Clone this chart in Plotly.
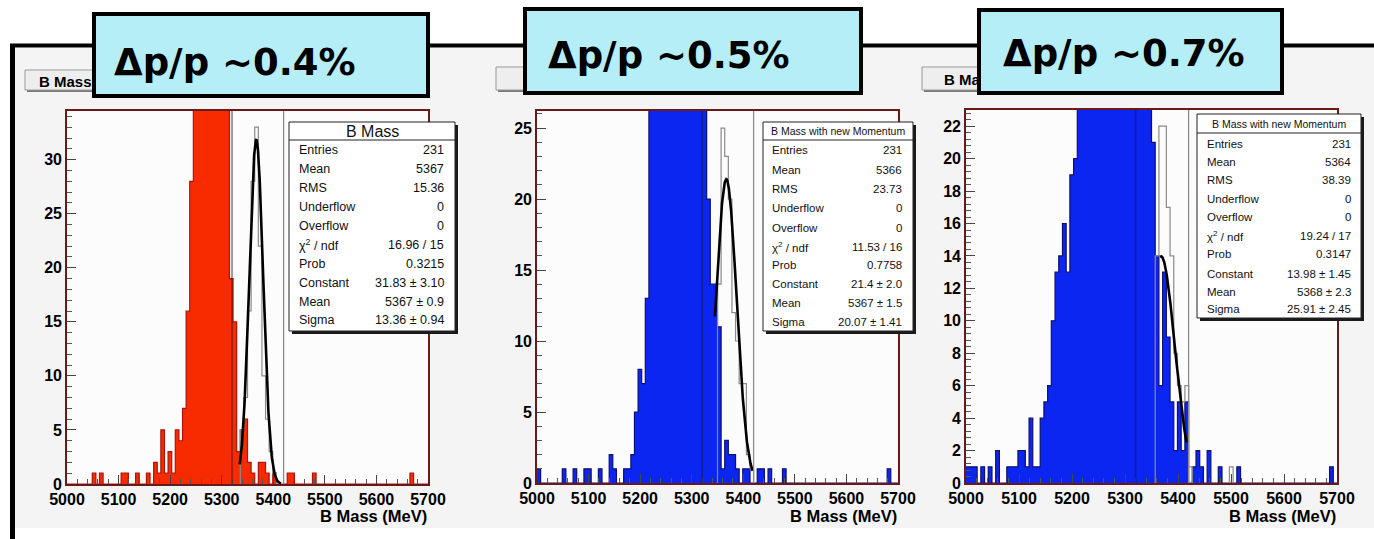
import numpy as np
import plotly.graph_objects as go

W, H = 1374, 539

# ---------------- data ----------------
BIN_LO, BIN_W, N_BINS = 5000, 7, 100
X_TICKS = [5000, 5100, 5200, 5300, 5400, 5500, 5600, 5700]

FILL_1 = [0, 0, 0, 0, 0, 0, 0, 1, 0, 1,
          0, 0, 0, 0, 0, 1, 1, 0, 0, 1,
          0, 0, 1, 0, 2, 1, 5, 1, 3, 1,
          5, 4, 7, 16, 28, 40, 48, 55, 60, 58,
          52, 47, 42, 38, 36, 19, 15, 3, 5, 6,
          2, 1, 0, 2, 2, 1, 0, 1, 0, 0,
          0, 1, 1, 0, 0, 0, 0, 0, 1, 0,
          0, 0, 0, 0, 0, 0, 0, 0, 0, 0,
          0, 0, 0, 0, 0, 0, 0, 0, 0, 0,
          0, 0, 0, 0, 0, 1, 0, 0, 0, 0]
FILL_2 = [1, 0, 0, 0, 0, 0, 0, 1, 0, 0,
          1, 0, 0, 1, 1, 0, 0, 1, 0, 0,
          2, 1, 0, 0, 1, 1, 2, 5, 8, 7,
          13, 30, 34, 38, 42, 45, 47, 46, 44, 42,
          40, 37, 35, 33, 31, 29, 27, 20, 14, 14,
          11, 1, 3, 2, 2, 1, 0, 1, 1, 0,
          0, 1, 1, 0, 1, 0, 0, 0, 1, 0,
          0, 0, 0, 0, 0, 0, 0, 0, 0, 0,
          0, 0, 0, 0, 0, 0, 0, 0, 0, 0,
          0, 0, 0, 0, 0, 0, 0, 1, 0, 0]
FILL_3 = [1, 1, 1, 0, 1, 0, 1, 0, 2, 0,
          0, 1, 1, 1, 2, 2, 1, 4, 1, 1,
          4, 5, 6, 10, 13, 14, 16, 13, 19, 20,
          26, 30, 33, 37, 40, 42, 44, 45, 46, 45,
          44, 42, 40, 38, 36, 33, 31, 29, 27, 25,
          21, 14, 6, 13, 9, 5, 2, 5, 2, 5,
          0, 1, 2, 1, 0, 2, 0, 0, 1, 0,
          0, 0, 0, 1, 0, 0, 0, 0, 0, 0,
          0, 0, 0, 0, 0, 0, 0, 0, 0, 0,
          0, 0, 0, 0, 0, 0, 0, 0, 1, 0]

GRAY_1_BINS = [48, 49, 50, 51, 52, 53, 54, 55, 56, 57]
GRAY_1 = [5, 8, 16, 28, 33, 22, 10, 6, 3, 1]
GRAY_2_BINS = [50, 51, 52, 53, 54, 55, 56, 57, 58, 59]
GRAY_2 = [14, 25, 23, 20, 12, 10, 7, 7, 2, 1]
GRAY_3_BINS = [51, 52, 53, 54, 55, 56, 57, 58, 59, 60, 71]
GRAY_3 = [14, 22, 22, 17, 14, 8, 6, 5, 6, 1, 1]

# Gaussian fit parameters (from stats boxes) and drawn fit ranges
FIT_1 = dict(const=31.83, mean=5367, sigma=13.36, lo=5335, hi=5415)
FIT_2 = dict(const=21.4, mean=5367, sigma=20.07, lo=5345, hi=5418)
FIT_3 = dict(const=13.98, mean=5368, sigma=25.91, lo=5366, hi=5416)

MARK_LINES = [5320, 5420]

TITLES = ["\u0394p/p ~0.4%", "\u0394p/p ~0.5%", "\u0394p/p ~0.7%"]
HIST_TITLES = ["B Mass", "B Mass with new Momentum", "B Mass with new Momentum"]
X_TITLE = "B Mass (MeV)"

STATS_1 = [("Entries", "231"), ("Mean", "5367"), ("RMS", "15.36"),
           ("Underflow", "0"), ("Overflow", "0"),
           ("\u03c7<sup>2</sup> / ndf", "16.96 / 15"), ("Prob", "0.3215"),
           ("Constant", "31.83 \u00b1 3.10"), ("Mean", "5367 \u00b1 0.9"),
           ("Sigma", "13.36 \u00b1 0.94")]
STATS_2 = [("Entries", "231"), ("Mean", "5366"), ("RMS", "23.73"),
           ("Underflow", "0"), ("Overflow", "0"),
           ("\u03c7<sup>2</sup> / ndf", "11.53 / 16"), ("Prob", "0.7758"),
           ("Constant", "21.4 \u00b1 2.0"), ("Mean", "5367 \u00b1 1.5"),
           ("Sigma", "20.07 \u00b1 1.41")]
STATS_3 = [("Entries", "231"), ("Mean", "5364"), ("RMS", "38.39"),
           ("Underflow", "0"), ("Overflow", "0"),
           ("\u03c7<sup>2</sup> / ndf", "19.24 / 17"), ("Prob", "0.3147"),
           ("Constant", "13.98 \u00b1 1.45"), ("Mean", "5368 \u00b1 2.3"),
           ("Sigma", "25.91 \u00b1 2.45")]

# ---------------- layout geometry (pixels) ----------------
PANELS = [
    dict(fill=FILL_1, gbins=GRAY_1_BINS, gray=GRAY_1, fit=FIT_1, stats=STATS_1,
         color="#f82a00", edge="#a8160c", dark="rgba(60,30,30,0.55)",
         plot=(67, 428, 111, 484), ymax=34.5, dtick=5, minor=1,
         sbox=(289, 455, 122, 331), shead=16, sfont=12.5, hdr_y=131, sep=140,
         rows=[150, 169, 188, 207, 226, 245, 264, 283, 302, 320],
         sl=297, sr=446,
         tbox=(25, 100, 70, 90), tpad=11,
         cbox=(92, 430, 12, 98), ctext=(112, 62)),
    dict(fill=FILL_2, gbins=GRAY_2_BINS, gray=GRAY_2, fit=FIT_2, stats=STATS_2,
         color="#0a26f0", edge="#101070", dark="rgba(20,20,80,0.55)",
         plot=(537, 898, 111, 483), ymax=26.2, dtick=5, minor=1,
         sbox=(763, 913, 122, 331), shead=10.5, sfont=11.5, hdr_y=131, sep=140,
         rows=[150, 170, 189, 208, 228, 247, 265, 284, 303, 322],
         sl=770, sr=904,
         tbox=(496, 560, 67, 90), tpad=40,
         cbox=(523, 863, 7, 95), ctext=(546, 55)),
    dict(fill=FILL_3, gbins=GRAY_3_BINS, gray=GRAY_3, fit=FIT_3, stats=STATS_3,
         color="#0a26f0", edge="#101070", dark="rgba(20,20,80,0.55)",
         plot=(966, 1337, 110, 483), ymax=23.0, dtick=2, minor=0.4,
         sbox=(1197, 1361, 114, 318), shead=10.5, sfont=11.5, hdr_y=124, sep=133,
         rows=[144, 162, 180, 199, 217, 236, 254, 274, 292, 309],
         sl=1205, sr=1353,
         tbox=(922, 1000, 67, 90), tpad=19,
         cbox=(977, 1284, 8, 95), ctext=(1001, 53)),
]


def px(x):
    return x / W


def py(y):
    return 1 - y / H


edges = BIN_LO + BIN_W * np.arange(N_BINS + 1)

fig = go.Figure()
shapes = []
annotations = []
SANS = "Liberation Sans, Arial, sans-serif"

# canvas background and outer frame
shapes.append(dict(type="rect", xref="paper", yref="paper", x0=px(15), x1=px(W),
                   y0=py(528), y1=py(48), fillcolor="#f4f4f4", line=dict(width=0),
                   layer="below"))
shapes.append(dict(type="line", xref="paper", yref="paper", x0=px(10), x1=px(W),
                   y0=py(45.5), y1=py(45.5), line=dict(color="black", width=4)))
shapes.append(dict(type="line", xref="paper", yref="paper", x0=px(12.5), x1=px(12.5),
                   y0=py(45), y1=py(H), line=dict(color="black", width=5)))

for k, p in enumerate(PANELS):
    n = "" if k == 0 else str(k + 1)
    xa, ya = "x" + n, "y" + n
    x0, x1, y0, y1 = p["plot"]

    # plot area background
    shapes.append(dict(type="rect", xref="paper", yref="paper", x0=px(x0), x1=px(x1),
                       y0=py(y1), y1=py(y0), fillcolor="#fcfcfc",
                       line=dict(width=0), layer="below"))

    # filled histogram
    counts = p["fill"]
    fig.add_trace(go.Scatter(
        x=list(edges), y=list(counts) + [counts[-1]], xaxis=xa, yaxis=ya,
        mode="lines", line=dict(shape="hv", color=p["edge"], width=1.2),
        fill="tozeroy", fillcolor=p["color"], hoverinfo="skip", showlegend=False))

    # gray outline histogram (contiguous runs)
    gb, gv = p["gbins"], p["gray"]
    runs, cur = [], []
    for b, v in zip(gb, gv):
        if cur and b != cur[-1][0] + 1:
            runs.append(cur)
            cur = []
        cur.append((b, v))
    if cur:
        runs.append(cur)
    for run in runs:
        xs, ys = [edges[run[0][0]]], [0]
        for b, v in run:
            xs += [edges[b], edges[b + 1]]
            ys += [v, v]
        xs.append(edges[run[-1][0] + 1])
        ys.append(0)
        fig.add_trace(go.Scatter(x=xs, y=ys, xaxis=xa, yaxis=ya, mode="lines",
                                 line=dict(color="#8a8a8a", width=1.2),
                                 hoverinfo="skip", showlegend=False))

    # gaussian fit curve
    f = p["fit"]
    xf = np.linspace(f["lo"], f["hi"], 200)
    yf = f["const"] * np.exp(-0.5 * ((xf - f["mean"]) / f["sigma"]) ** 2)
    fig.add_trace(go.Scatter(x=xf, y=yf, xaxis=xa, yaxis=ya, mode="lines",
                             line=dict(color="black", width=2.6),
                             hoverinfo="skip", showlegend=False))

    # vertical marker lines
    shapes.append(dict(type="line", xref=xa, yref=ya + " domain", x0=MARK_LINES[0],
                       x1=MARK_LINES[0], y0=0, y1=1,
                       line=dict(color=p["dark"], width=1.6), layer="above"))
    shapes.append(dict(type="line", xref=xa, yref=ya + " domain", x0=MARK_LINES[1],
                       x1=MARK_LINES[1], y0=0, y1=1,
                       line=dict(color="#8c8c8c", width=1.3), layer="above"))

    axis_font = dict(family=SANS, size=16, color="black", weight="bold")
    fig.update_layout(**{
        ("xaxis" + n): dict(
            domain=[px(x0), px(x1)], anchor=ya, range=[BIN_LO, BIN_LO + BIN_W * N_BINS],
            tickvals=X_TICKS, ticks="inside", ticklen=9, tickcolor="#444",
            tickwidth=1, showgrid=False, zeroline=False, showline=True,
            mirror=True, linecolor="#6a1818", linewidth=1.6, tickfont=axis_font,
            automargin=False,
            minor=dict(dtick=20, ticks="inside", ticklen=5, tickcolor="#555",
                       showgrid=False)),
        ("yaxis" + n): dict(
            domain=[py(y1), py(y0)], anchor=xa, range=[0, p["ymax"]],
            dtick=p["dtick"], tick0=0, ticks="inside", ticklen=9, tickcolor="#444",
            tickwidth=1, showgrid=False, zeroline=False, showline=True,
            mirror=True, linecolor="#6a1818", linewidth=1.6, tickfont=axis_font,
            automargin=False,
            minor=dict(dtick=p["minor"], ticks="inside", ticklen=5, tickcolor="#555",
                       showgrid=False)),
    })

    # x-axis title
    annotations.append(dict(xref="paper", yref="paper", x=px(x1 + 1), y=py(516),
                            xanchor="right", yanchor="middle", showarrow=False,
                            text=X_TITLE,
                            font=dict(family=SANS, size=16.5, color="black",
                                      weight="bold")))

    # stats box
    s0, s1, t0, t1 = p["sbox"]
    shapes.append(dict(type="rect", xref="paper", yref="paper", x0=px(s0 + 3),
                       x1=px(s1 + 3), y0=py(t1 + 3), y1=py(t0 + 3),
                       fillcolor="#1a1a1a", line=dict(width=0), layer="above"))
    shapes.append(dict(type="rect", xref="paper", yref="paper", x0=px(s0), x1=px(s1),
                       y0=py(t1), y1=py(t0), fillcolor="white",
                       line=dict(color="#222", width=1), layer="above"))
    shapes.append(dict(type="line", xref="paper", yref="paper", x0=px(s0), x1=px(s1),
                       y0=py(p["sep"]), y1=py(p["sep"]),
                       line=dict(color="#222", width=1), layer="above"))
    sfont = dict(family=SANS, size=p["sfont"], color="#111")
    annotations.append(dict(xref="paper", yref="paper", x=px((s0 + s1) / 2),
                            y=py(p["hdr_y"]), xanchor="center", yanchor="middle",
                            showarrow=False, text=HIST_TITLES[k],
                            font=dict(family=SANS, size=p["shead"], color="#111")))
    for (lab, val), ry in zip(p["stats"], p["rows"]):
        annotations.append(dict(xref="paper", yref="paper", x=px(p["sl"]), y=py(ry),
                                xanchor="left", yanchor="middle", showarrow=False,
                                text=lab, font=sfont))
        annotations.append(dict(xref="paper", yref="paper", x=px(p["sr"]), y=py(ry),
                                xanchor="right", yanchor="middle", showarrow=False,
                                text=val, font=sfont))

# ROOT histogram title boxes (their labels get covered by the cyan boxes)
for k, p in enumerate(PANELS):
    b0, b1, c0, c1 = p["tbox"]
    shapes.append(dict(type="rect", xref="paper", yref="paper", x0=px(b0 + 2),
                       x1=px(b1 + 2), y0=py(c1 + 2), y1=py(c0 + 2),
                       fillcolor="#777", line=dict(width=0), layer="above"))
    shapes.append(dict(type="rect", xref="paper", yref="paper", x0=px(b0), x1=px(b1),
                       y0=py(c1), y1=py(c0), fillcolor="#eeeeee",
                       line=dict(color="#999", width=1), layer="above",
                       label=dict(text=HIST_TITLES[k], textposition="middle left",
                                  padding=p["tpad"],
                                  font=dict(family=SANS, size=15, color="black",
                                            weight="bold"))))

# cyan label boxes
for k, p in enumerate(PANELS):
    a0, a1, e0, e1 = p["cbox"]
    shapes.append(dict(type="rect", xref="paper", yref="paper", x0=px(a0 + 2),
                       x1=px(a1 - 2), y0=py(e1 - 2), y1=py(e0 + 2),
                       fillcolor="#b6eef7", line=dict(color="black", width=4),
                       layer="above"))
    tx, ty = p["ctext"]
    annotations.append(dict(xref="paper", yref="paper", x=px(tx), y=py(ty),
                            xanchor="left", yanchor="middle", showarrow=False,
                            text=TITLES[k],
                            font=dict(family="DejaVu Sans, sans-serif", size=37,
                                      color="black", weight="bold")))

fig.update_layout(width=W, height=H,
                  margin=dict(l=0, r=0, t=0, b=0, pad=0, autoexpand=False),
                  paper_bgcolor="white", plot_bgcolor="rgba(0,0,0,0)",
                  showlegend=False, shapes=shapes, annotations=annotations)

fig.write_html("out.html", config={"displayModeBar": False},
               post_script="document.body.style.margin='0px';"
                           "document.body.style.overflow='hidden';")
